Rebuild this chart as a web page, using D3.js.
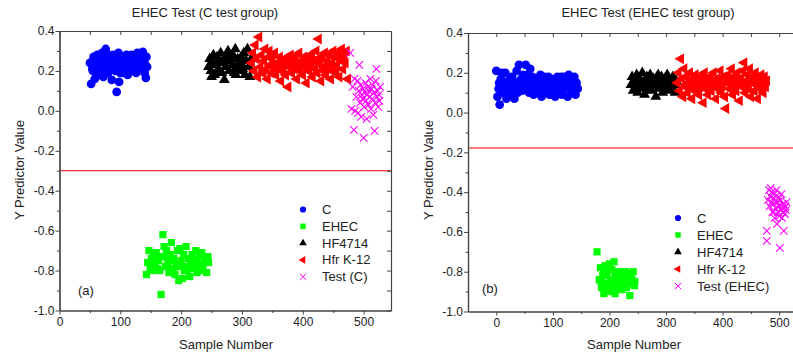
<!DOCTYPE html>
<html>
<head>
<meta charset="utf-8">
<script src="https://cdn.jsdelivr.net/npm/d3@7"></script>
<style>
  body { margin: 0; background: #fff; }
  svg text { font-family: "Liberation Sans", Arial, sans-serif; fill: #222; }
</style>
</head>
<body>
<svg id="chart" width="793" height="356"></svg>
<script>
// ticks
const xTicks = [0, 100, 200, 300, 400, 500];
const xMinor = [-50, 50, 150, 250, 350, 450, 550];
const yTicks = [-1.0, -0.8, -0.6, -0.4, -0.2, 0.0, 0.2, 0.4];
const yMinor = [-0.9, -0.7, -0.5, -0.3, -0.1, 0.1, 0.3];
const groupNames = ['C', 'EHEC', 'HF4714', 'Hfr K-12'];

// panel (a) - C test group
const aC = [[50,0.24],[52,0.135],[54,0.21],[56,0.27],[58,0.16],[60,0.25],[62,0.28],[64,0.22],[66,0.20],[68,0.26],[70,0.29],[72,0.17],[74,0.23],[76,0.31],[78,0.27],[80,0.19],[82,0.25],[84,0.22],[86,0.155],[88,0.28],[90,0.24],[92,0.20],[94,0.095],[96,0.26],[98,0.145],[100,0.23],[102,0.27],[104,0.19],[106,0.25],[108,0.21],[110,0.28],[112,0.18],[114,0.24],[116,0.26],[118,0.20],[120,0.27],[122,0.22],[124,0.25],[126,0.19],[128,0.29],[130,0.23],[132,0.21],[134,0.26],[136,0.28],[138,0.20],[140,0.24],[142,0.165],[144,0.22],[143,0.27],[135,0.24],[125,0.28],[115,0.22],[105,0.27],[95,0.24],[85,0.26],[75,0.21],[65,0.24],[55,0.20],[60,0.22],[70,0.25],[80,0.28],[90,0.27],[100,0.19],[110,0.23],[120,0.20],[130,0.27],[140,0.19],[137,0.295],[118,0.28],[97,0.29],[67,0.18],[63,0.19]];
const aEhec = [[143,-0.82],[145,-0.76],[147,-0.70],[149,-0.79],[151,-0.74],[153,-0.80],[155,-0.72],[157,-0.77],[159,-0.71],[161,-0.79],[163,-0.75],[165,-0.80],[167,-0.92],[169,-0.73],[170,-0.62],[172,-0.68],[174,-0.78],[176,-0.70],[178,-0.76],[180,-0.81],[182,-0.72],[184,-0.66],[186,-0.79],[188,-0.74],[190,-0.82],[192,-0.77],[194,-0.70],[196,-0.85],[198,-0.69],[200,-0.75],[202,-0.84],[204,-0.72],[206,-0.78],[208,-0.68],[210,-0.80],[212,-0.74],[214,-0.83],[216,-0.76],[218,-0.72],[220,-0.79],[222,-0.75],[224,-0.70],[226,-0.81],[228,-0.77],[230,-0.73],[232,-0.79],[234,-0.71],[236,-0.80],[238,-0.76],[240,-0.74],[242,-0.81],[244,-0.73],[150,-0.77],[160,-0.74],[175,-0.73],[185,-0.75],[195,-0.78],[205,-0.80],[215,-0.78],[225,-0.76],[235,-0.78],[245,-0.76]];
const aHf = [[245,0.22],[247,0.26],[249,0.20],[251,0.24],[253,0.28],[255,0.18],[257,0.23],[259,0.27],[261,0.21],[263,0.25],[265,0.29],[267,0.19],[269,0.24],[271,0.155],[273,0.22],[275,0.27],[277,0.30],[279,0.20],[281,0.25],[283,0.23],[285,0.28],[287,0.19],[289,0.31],[291,0.22],[293,0.26],[295,0.20],[297,0.24],[299,0.27],[301,0.21],[303,0.29],[305,0.18],[307,0.25],[309,0.31],[311,0.22],[313,0.17],[315,0.26],[250,0.17],[260,0.20],[280,0.27],[300,0.23],[270,0.26],[290,0.18]];
const aHfr = [[316,0.24],[318,0.29],[320,0.20],[322,0.33],[324,0.26],[326,0.17],[328,0.37],[330,0.22],[332,0.28],[334,0.19],[336,0.25],[338,0.31],[340,0.21],[342,0.16],[344,0.27],[346,0.23],[348,0.19],[350,0.26],[352,0.22],[354,0.29],[356,0.18],[358,0.24],[360,0.21],[362,0.27],[364,0.15],[366,0.23],[368,0.20],[370,0.26],[372,0.18],[374,0.24],[376,0.12],[378,0.22],[380,0.28],[382,0.19],[384,0.25],[386,0.21],[388,0.27],[390,0.16],[392,0.23],[394,0.29],[396,0.20],[398,0.25],[400,0.18],[402,0.27],[404,0.22],[406,0.14],[408,0.26],[410,0.20],[412,0.28],[414,0.23],[416,0.17],[418,0.25],[420,0.21],[422,0.30],[424,0.19],[426,0.36],[428,0.24],[430,0.15],[432,0.27],[434,0.22],[436,0.29],[438,0.18],[440,0.25],[442,0.21],[444,0.28],[446,0.16],[448,0.24],[450,0.30],[452,0.20],[454,0.27],[456,0.23],[458,0.29],[460,0.17],[462,0.26],[464,0.31],[466,0.21],[468,0.28],[470,0.24],[472,0.30],[474,0.16],[335,0.20],[345,0.30],[365,0.25],[385,0.23],[405,0.24],[425,0.26],[445,0.23],[465,0.25],[355,0.21],[375,0.27],[395,0.22],[415,0.27],[435,0.20],[455,0.19]];
const aTest = [[478,0.29],[480,0.01],[482,0.12],[484,-0.095],[485,0.16],[486,0.00],[488,0.07],[490,0.15],[491,-0.01],[492,0.10],[493,0.23],[494,0.04],[495,0.13],[496,-0.03],[497,0.08],[498,0.06],[499,0.11],[500,-0.135],[501,0.02],[502,0.09],[503,0.14],[504,0.05],[505,-0.04],[506,0.08],[507,0.12],[508,0.03],[509,0.10],[510,0.07],[511,0.16],[512,0.01],[513,0.11],[514,0.06],[515,0.13],[516,-0.02],[517,0.09],[518,-0.10],[519,0.04],[520,0.15],[521,0.21],[522,0.07],[523,0.10],[524,0.02],[525,0.08],[526,0.05],[527,0.12]];

// panel (b) - EHEC test group
const bC = [[0,0.21],[2,0.08],[4,0.12],[6,0.04],[8,0.17],[10,0.20],[12,0.10],[14,0.14],[16,0.20],[18,0.07],[20,0.12],[22,0.16],[24,0.09],[26,0.13],[28,0.18],[30,0.11],[32,0.07],[34,0.15],[36,0.21],[38,0.10],[40,0.24],[42,0.13],[44,0.17],[46,0.11],[48,0.19],[50,0.14],[52,0.24],[54,0.12],[56,0.16],[58,0.10],[60,0.22],[62,0.14],[64,0.18],[66,0.09],[68,0.15],[70,0.12],[72,0.17],[74,0.10],[76,0.13],[78,0.19],[80,0.08],[82,0.15],[84,0.12],[86,0.16],[88,0.11],[90,0.14],[92,0.18],[94,0.09],[96,0.13],[98,0.17],[100,0.12],[102,0.15],[104,0.08],[106,0.14],[108,0.18],[110,0.11],[112,0.16],[114,0.13],[116,0.09],[118,0.15],[120,0.18],[122,0.12],[124,0.14],[126,0.08],[128,0.19],[130,0.13],[132,0.16],[134,0.11],[136,0.14],[138,0.18],[140,0.09],[142,0.15],[144,0.12],[5,0.15],[25,0.17],[45,0.14],[65,0.13],[85,0.18],[105,0.16],[125,0.17],[15,0.11],[35,0.12],[55,0.19],[75,0.15],[95,0.16],[115,0.18],[135,0.15]];
const bEhec = [[178,-0.70],[182,-0.84],[184,-0.78],[186,-0.88],[188,-0.82],[190,-0.91],[192,-0.77],[194,-0.86],[196,-0.80],[198,-0.89],[200,-0.76],[202,-0.84],[204,-0.79],[206,-0.87],[208,-0.75],[210,-0.91],[212,-0.83],[214,-0.88],[216,-0.80],[218,-0.86],[220,-0.82],[222,-0.89],[224,-0.81],[226,-0.85],[228,-0.80],[230,-0.88],[232,-0.83],[234,-0.86],[236,-0.92],[238,-0.81],[240,-0.84],[242,-0.80],[244,-0.87],[185,-0.85],[195,-0.82],[205,-0.88],[215,-0.84],[225,-0.87],[235,-0.83],[245,-0.85],[190,-0.80],[200,-0.90],[210,-0.82],[220,-0.86],[230,-0.81]];
const bHf = [[238,0.14],[240,0.18],[242,0.11],[244,0.16],[246,0.13],[248,0.19],[250,0.10],[252,0.15],[254,0.17],[256,0.12],[258,0.20],[260,0.14],[262,0.09],[264,0.16],[266,0.18],[268,0.12],[270,0.15],[272,0.19],[274,0.11],[276,0.14],[278,0.17],[280,0.13],[282,0.08],[284,0.16],[286,0.19],[288,0.12],[290,0.15],[292,0.18],[294,0.10],[296,0.14],[298,0.17],[300,0.12],[302,0.19],[304,0.15],[306,0.11],[308,0.16],[310,0.13],[312,0.18],[314,0.14],[316,0.10],[318,0.16]];
const bHfr = [[320,0.15],[322,0.20],[324,0.11],[326,0.27],[328,0.17],[330,0.08],[332,0.22],[334,0.13],[336,0.18],[338,0.10],[340,0.15],[342,0.20],[344,0.12],[346,0.07],[348,0.17],[350,0.14],[352,0.19],[354,0.11],[356,0.16],[358,0.09],[360,0.13],[362,0.18],[364,0.15],[366,0.05],[368,0.20],[370,0.12],[372,0.16],[374,0.09],[376,0.14],[378,0.18],[380,0.11],[382,0.15],[384,0.20],[386,0.13],[388,0.07],[390,0.17],[392,0.12],[394,0.16],[396,0.21],[398,0.10],[400,0.14],[402,0.18],[404,0.08],[406,0.02],[408,0.15],[410,0.19],[412,0.12],[414,0.17],[416,0.22],[418,0.09],[420,0.14],[422,0.18],[424,0.11],[426,0.20],[428,0.15],[430,0.06],[432,0.17],[434,0.13],[436,0.21],[438,0.25],[440,0.10],[442,0.16],[444,0.19],[446,0.12],[448,0.22],[450,0.08],[452,0.15],[454,0.18],[456,0.11],[458,0.20],[460,0.14],[462,0.07],[464,0.17],[466,0.12],[468,0.19],[470,0.15],[472,0.10],[474,0.18],[476,0.13],[478,0.16],[335,0.14],[345,0.16],[355,0.13],[365,0.19],[375,0.16],[385,0.15],[395,0.13],[405,0.17],[415,0.14],[425,0.16],[435,0.15],[445,0.14],[455,0.16],[465,0.15],[475,0.14]];
const bTest = [[478,-0.595],[478,-0.645],[480,-0.44],[482,-0.39],[483,-0.47],[484,-0.42],[485,-0.38],[486,-0.45],[487,-0.40],[488,-0.50],[489,-0.43],[490,-0.46],[491,-0.41],[492,-0.53],[493,-0.44],[494,-0.48],[495,-0.42],[496,-0.56],[497,-0.45],[498,-0.50],[499,-0.47],[500,-0.52],[501,-0.68],[502,-0.44],[503,-0.49],[504,-0.41],[505,-0.53],[506,-0.46],[507,-0.50],[508,-0.595],[509,-0.48],[510,-0.51],[511,-0.47],[512,-0.49],[513,-0.45],[490,-0.50],[495,-0.39],[500,-0.43],[505,-0.48]];

const svg = d3.select('#chart');

// marker styles per group
const markers = [
    { type: d3.symbolCircle, size: 60, legendSize: 30, fill: '#0000ff' },
    { type: d3.symbolSquare, size: 52, legendSize: 30, fill: '#00ff00' },
    { type: d3.symbolTriangle, size: 52, legendSize: 26, fill: '#000000' },
    { type: d3.symbolTriangle, size: 52, legendSize: 26, fill: '#ff0000', rotate: -90 },
    { type: d3.symbolTimes, size: 38, legendSize: 28, stroke: '#ff00ff' }
];

function drawMarks(g, data, m, x, y) {
    const sym = d3.symbol().type(m.type).size(m.size);
    const pts = g.append('g').selectAll('path')
        .data(data)
        .enter()
        .append('path')
        .attr('d', sym)
        .attr('transform', d => 'translate(' + x(d[0]) + ',' + y(d[1]) + ')' + (m.rotate ? ' rotate(' + m.rotate + ')' : ''));
    if (m.stroke) {
        pts.attr('fill', 'none').attr('stroke', m.stroke).attr('stroke-width', 1.1);
    } else {
        pts.attr('fill', m.fill);
    }
}

function drawPanel(p) {
    const x = d3.scaleLinear().domain(p.xDomain).range([p.left, p.right]);
    const y = d3.scaleLinear().domain([-1.0, 0.4]).range([p.bottom, p.top]);
    const g = svg.append('g');

    // threshold line
    g.append('line')
        .attr('x1', p.left).attr('x2', p.right)
        .attr('y1', y(p.threshold)).attr('y2', y(p.threshold))
        .attr('stroke', '#ff0000').attr('stroke-width', 1);

    const series = [p.c, p.ehec, p.hf, p.hfr, p.test];
    series.forEach((s, i) => drawMarks(g, s, markers[i], x, y));

    const xMin = xMinor.filter(v => v > p.xDomain[0] && v < p.xDomain[1]);

    // bottom / left axes, ticks out
    g.append('g').attr('transform', 'translate(0,' + p.bottom + ')')
        .call(d3.axisBottom(x).tickValues(xTicks).tickSize(4).tickSizeOuter(0).tickPadding(2.5).tickFormat(d3.format('d')));
    g.append('g').attr('transform', 'translate(0,' + p.bottom + ')')
        .call(d3.axisBottom(x).tickValues(xMin).tickSize(2.5).tickSizeOuter(0).tickFormat(''));
    g.append('g').attr('transform', 'translate(' + p.left + ',0)')
        .call(d3.axisLeft(y).tickValues(yTicks).tickSize(4).tickSizeOuter(0).tickPadding(1).tickFormat(d => d.toFixed(1)));
    g.append('g').attr('transform', 'translate(' + p.left + ',0)')
        .call(d3.axisLeft(y).tickValues(yMinor).tickSize(2.5).tickSizeOuter(0).tickFormat(''));

    // top / right axes, ticks in
    g.append('g').attr('transform', 'translate(0,' + p.top + ')')
        .call(d3.axisTop(x).tickValues(xTicks.concat(xMin)).tickSize(-4).tickSizeOuter(0).tickFormat(''));
    g.append('g').attr('transform', 'translate(' + p.right + ',0)')
        .call(d3.axisRight(y).tickValues(yTicks.concat(yMinor)).tickSize(-4).tickSizeOuter(0).tickFormat(''));

    g.selectAll('.domain').attr('stroke', '#444').attr('stroke-width', 1.2);
    g.selectAll('.tick line').attr('stroke', '#444');
    g.selectAll('.tick text').attr('font-size', 12).attr('fill', '#222')
        .attr('font-family', '"Liberation Sans", Arial, sans-serif');

    // titles
    g.append('text').attr('x', p.titleX).attr('y', 17).attr('text-anchor', 'middle')
        .attr('font-size', 13).text(p.title);
    g.append('text').attr('transform', 'translate(' + p.yLabelX + ',170) rotate(-90)')
        .attr('text-anchor', 'middle').attr('font-size', 13).text('Y Predictor Value');
    g.append('text').attr('x', p.xLabelX).attr('y', 349).attr('text-anchor', 'middle')
        .attr('font-size', 13).text('Sample Number');
    g.append('text').attr('x', p.tagX).attr('y', p.tagY).attr('font-size', 13).text(p.tag);

    // legend
    const names = groupNames.concat([p.testName]);
    const lg = g.append('g');
    names.forEach((n, i) => {
        const m = markers[i];
        const cy = p.legendY + i * p.legendStep;
        const mk = lg.append('path')
            .attr('d', d3.symbol().type(m.type).size(m.legendSize))
            .attr('transform', 'translate(' + p.legendX + ',' + cy + ')' + (m.rotate ? ' rotate(' + m.rotate + ')' : ''));
        if (m.stroke) mk.attr('fill', 'none').attr('stroke', m.stroke).attr('stroke-width', 1);
        else mk.attr('fill', m.fill);
        lg.append('text').attr('x', p.legendX + 19).attr('y', cy + 4.5)
            .attr('font-size', 13).text(n);
    });
}

drawPanel({
    left: 59.5, right: 391, top: 31, bottom: 310.5, xDomain: [0, 545],
    threshold: -0.3, c: aC, ehec: aEhec, hf: aHf, hfr: aHfr, test: aTest,
    title: 'EHEC Test (C test group)', titleX: 205, yLabelX: 24, xLabelX: 226,
    tag: '(a)', tagX: 78, tagY: 295, testName: 'Test (C)',
    legendX: 303, legendY: 209.5, legendStep: 16.8
});

drawPanel({
    left: 468, right: 807.5, top: 33, bottom: 311.5, xDomain: [-50, 550],
    threshold: -0.178, c: bC, ehec: bEhec, hf: bHf, hfr: bHfr, test: bTest,
    title: 'EHEC Test (EHEC test group)', titleX: 648, yLabelX: 433, xLabelX: 634,
    tag: '(b)', tagX: 482, tagY: 293, testName: 'Test (EHEC)',
    legendX: 678, legendY: 218, legendStep: 17
});
</script>
</body>
</html>
